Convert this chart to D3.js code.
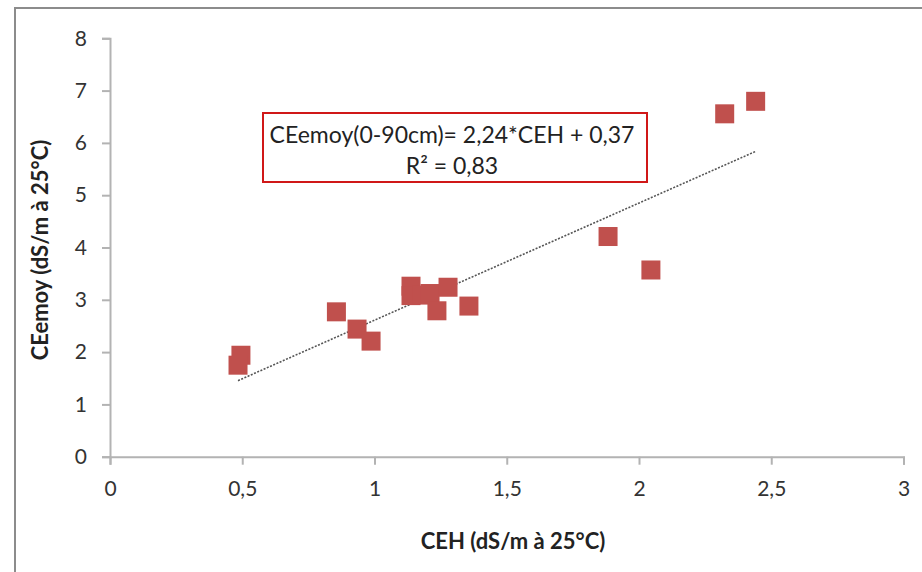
<!DOCTYPE html>
<html>
<head>
<meta charset="utf-8">
<script src="https://cdn.jsdelivr.net/npm/d3@7/dist/d3.min.js"></script>
<style>
  html, body { margin: 0; padding: 0; background: #fff; }
  svg { display: block; font-family: Lato, "Open Sans", sans-serif; }
</style>
</head>
<body>
<svg id="chart" width="922" height="572"></svg>
<script>
// Electrical conductivity: soil paste extract (CEH) vs. mean profile value (CEemoy)
const ceh    = [0.495, 0.484, 0.856, 0.934, 0.987, 1.138, 1.138, 1.18, 1.21, 1.236, 1.278, 1.357, 1.883, 2.045, 2.324, 2.441];
const ceemoy = [1.94,  1.75,  2.77,  2.44,  2.21,  3.26,  3.08,  3.09, 3.12, 2.79,  3.24,  2.88,  4.21,  3.57,  6.556, 6.795];
const xTicks = [0, 0.5, 1, 1.5, 2, 2.5, 3];
const yTicks = [0, 1, 2, 3, 4, 5, 6, 7, 8];
const slope = 2.24, intercept = 0.37;
const equation = "CEemoy(0-90cm)= 2,24*CEH + 0,37";
const r2Label = "R² = 0,83";
const xTitle = "CEH (dS/m à 25°C)";
const yTitle = "CEemoy (dS/m à 25°C)";

const svg = d3.select("#chart");
const fmt = v => String(v).replace(".", ",");

// outer chart frame
svg.append("rect")
  .attr("x", 15).attr("y", 8).attr("width", 930).attr("height", 600)
  .attr("fill", "#fff").attr("stroke", "#8c8c8c").attr("stroke-width", 2);

const x = d3.scaleLinear().domain([0, 3]).range([110, 903.5]);
const y = d3.scaleLinear().domain([0, 8]).range([456.7, 38.3]);

const axisColor = "#b3b3b3";

// y axis
const gy = svg.append("g").attr("transform", `translate(${x(0)},0)`)
  .call(d3.axisLeft(y).tickValues(yTicks).tickSize(8).tickPadding(15).tickFormat(fmt));
// x axis
const gx = svg.append("g").attr("transform", `translate(0,${y(0)})`)
  .call(d3.axisBottom(x).tickValues(xTicks).tickSize(8).tickPadding(16).tickFormat(fmt));

[gx, gy].forEach(g => {
  g.select(".domain").attr("stroke", axisColor).attr("stroke-width", 2);
  g.selectAll(".tick line").attr("stroke", axisColor).attr("stroke-width", 2);
  g.selectAll(".tick text").attr("fill", "#333").attr("font-size", 21)
    .attr("font-family", "Lato, 'Open Sans', sans-serif");
});

// linear trend line over the data range
const xr = d3.extent(ceh);
svg.append("line")
  .attr("x1", x(xr[0])).attr("y1", y(slope * xr[0] + intercept))
  .attr("x2", x(xr[1])).attr("y2", y(slope * xr[1] + intercept))
  .attr("stroke", "#555").attr("stroke-width", 1.6)
  .attr("stroke-dasharray", "2,1.5");

// square markers
const m = 19;
svg.append("g").selectAll("rect").data(ceh.map((d, i) => [d, ceemoy[i]]))
  .join("rect")
  .attr("x", d => x(d[0]) - m / 2).attr("y", d => y(d[1]) - m / 2)
  .attr("width", m).attr("height", m)
  .attr("fill", "#c0504d");

// equation box
svg.append("rect")
  .attr("x", 263).attr("y", 113).attr("width", 384).attr("height", 69)
  .attr("fill", "#fff").attr("stroke", "#d01818").attr("stroke-width", 2);
svg.append("text").attr("x", 452).attr("y", 143).attr("text-anchor", "middle")
  .attr("font-size", 23).attr("fill", "#222").text(equation);
svg.append("text").attr("x", 452).attr("y", 174).attr("text-anchor", "middle")
  .attr("font-size", 23).attr("fill", "#222").text(r2Label);

// axis titles
svg.append("text").attr("x", 513).attr("y", 549).attr("text-anchor", "middle")
  .attr("font-size", 22).attr("font-weight", "bold").attr("fill", "#222").text(xTitle);
svg.append("text").attr("transform", "translate(48,250) rotate(-90)")
  .attr("text-anchor", "middle")
  .attr("font-size", 22).attr("font-weight", "bold").attr("fill", "#222").text(yTitle);
</script>
</body>
</html>
